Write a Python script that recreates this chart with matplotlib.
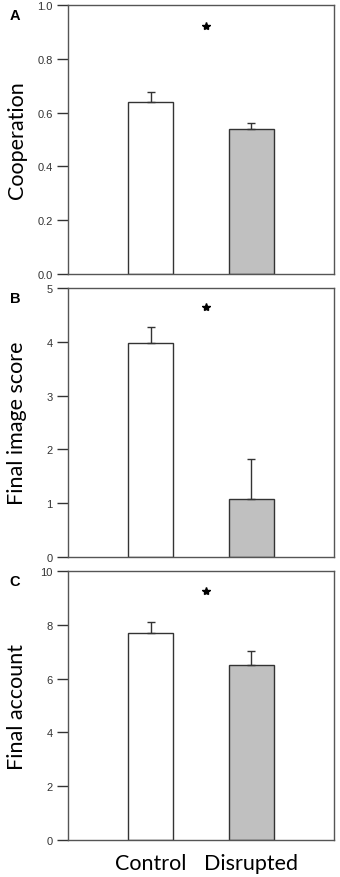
import numpy as np
import matplotlib
matplotlib.use("Agg")
import matplotlib.pyplot as plt

groups = ["Control", "Disrupted"]
panel_letters = ["A", "B", "C"]
ylabels = ["Cooperation", "Final image score", "Final account"]
means = [[0.64, 0.54], [3.97, 1.08], [7.70, 6.50]]
errors = [[0.035, 0.022], [0.30, 0.74], [0.42, 0.52]]
ymax = [1.0, 5, 10]
yticks = [[0.0, 0.2, 0.4, 0.6, 0.8, 1.0], [0, 1, 2, 3, 4, 5], [0, 2, 4, 6, 8, 10]]
ytick_labels = [["0.0", "0.2", "0.4", "0.6", "0.8", "1.0"],
                ["0", "1", "2", "3", "4", "5"],
                ["0", "2", "4", "6", "8", "10"]]
star_x = 1.55
star_y = [0.92, 4.65, 9.25]

bar_colors = ["white", "#c0c0c0"]
edge = "#333333"

fig = plt.figure(figsize=(3.4, 8.78), dpi=100)
bottoms = [0.6868, 0.3645, 0.0421]
x = np.array([1, 2])

for i in range(3):
    ax = fig.add_axes([0.2, bottoms[i], 0.782, 0.3064])
    ax.bar(x, means[i], width=0.45, color=bar_colors, edgecolor=edge, linewidth=1.0, zorder=2)
    for j in range(2):
        ax.errorbar(x[j], means[i][j], yerr=[[0], [errors[i][j]]], fmt="none",
                    ecolor=edge, elinewidth=1.0, capsize=3, capthick=1.0, zorder=3)
    # significance star
    ax.plot(star_x, star_y[i], marker="*", markersize=6, color="black", zorder=4)
    ax.set_xlim(0.18, 2.82)
    ax.set_ylim(0, ymax[i])
    ax.set_yticks(yticks[i])
    ax.set_yticklabels(ytick_labels[i], fontsize=8, color="#333333",
                       family="Liberation Sans")
    ax.tick_params(axis="y", direction="out", length=8, width=1.0, color=edge, pad=3)
    for s in ax.spines.values():
        s.set_color("#555555")
        s.set_linewidth(1.0)
    ax.set_ylabel(ylabels[i], fontsize=15.5, family="Lato")
    ax.yaxis.set_label_coords(-0.155, 0.5)
    if i == 2:
        ax.set_xticks(x)
        ax.set_xticklabels(groups, fontsize=15.5, family="Lato")
        ax.tick_params(axis="x", length=0, pad=9)
    else:
        ax.set_xticks([])
    fig.text(0.028, bottoms[i] + 0.3064 - 0.011, panel_letters[i], fontsize=10.5,
             fontweight="bold", family="Liberation Sans", va="center", ha="left")

fig.savefig("out.png", dpi=100)
